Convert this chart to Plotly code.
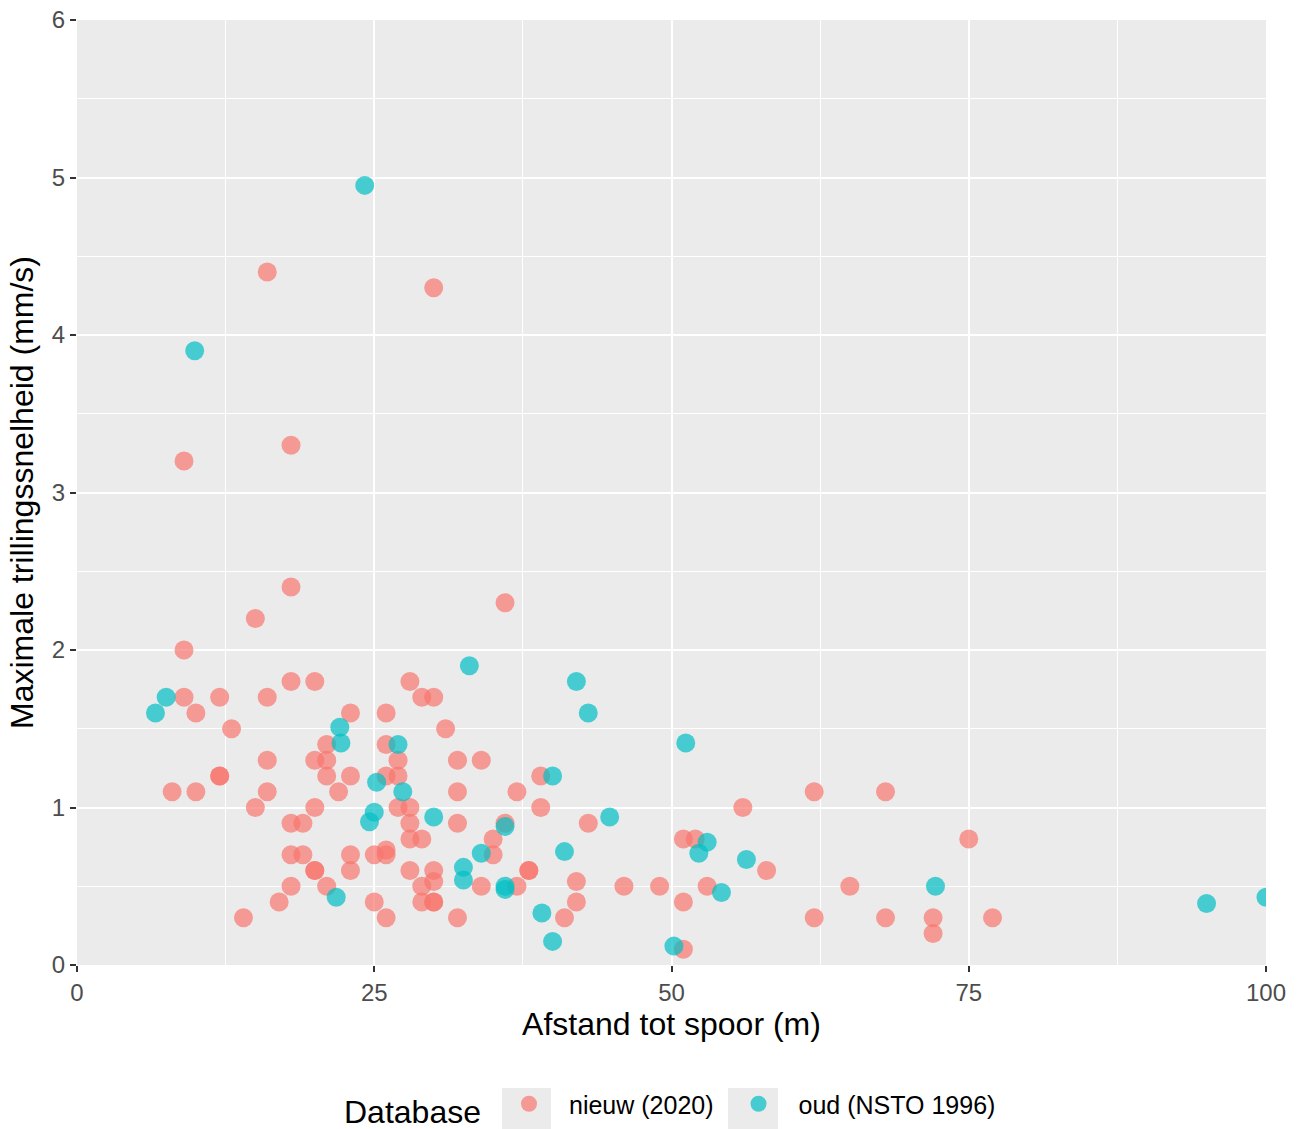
import plotly.graph_objects as go

# Afstand tot spoor (m) en maximale trillingssnelheid (mm/s), nieuwe database (2020)
nieuw_afstand = [16, 30, 9, 18, 18, 15, 36, 9, 9, 12, 10, 13, 16, 18, 20, 23, 26, 28, 29, 30,
                 31, 8, 10, 12, 12, 15, 16, 16, 18, 18, 18, 14, 17, 19, 19, 20, 20, 20, 20, 21,
                 21, 21, 21, 22, 23, 23, 23, 25, 25, 26, 26, 26, 26, 26, 27, 27, 27, 28, 28, 28,
                 28, 29, 29, 29, 30, 30, 30, 30, 32, 32, 32, 32, 34, 34, 35, 35, 36, 37, 37, 38,
                 38, 39, 39, 41, 42, 42, 43, 46, 49, 51, 51, 51, 52, 53, 56, 58, 62, 62, 65, 68,
                 68, 72, 72, 75, 77]
nieuw_snelheid = [4.4, 4.3, 3.2, 3.3, 2.4, 2.2, 2.3, 2.0, 1.7, 1.7, 1.6, 1.5, 1.7, 1.8, 1.8, 1.6, 1.6, 1.8, 1.7, 1.7,
                  1.5, 1.1, 1.1, 1.2, 1.2, 1.0, 1.3, 1.1, 0.9, 0.7, 0.5, 0.3, 0.4, 0.9, 0.7, 1.3, 1.0, 0.6, 0.6, 1.4,
                  1.3, 1.2, 0.5, 1.1, 1.2, 0.7, 0.6, 0.7, 0.4, 1.4, 1.2, 0.73, 0.7, 0.3, 1.3, 1.2, 1.0, 1.0, 0.9, 0.8,
                  0.6, 0.8, 0.5, 0.4, 0.6, 0.53, 0.4, 0.4, 1.3, 1.1, 0.9, 0.3, 1.3, 0.5, 0.8, 0.7, 0.9, 1.1, 0.5, 0.6,
                  0.6, 1.2, 1.0, 0.3, 0.53, 0.4, 0.9, 0.5, 0.5, 0.8, 0.4, 0.1, 0.8, 0.5, 1.0, 0.6, 1.1, 0.3, 0.5, 1.1,
                  0.3, 0.3, 0.2, 0.8, 0.3]

# Oude database (NSTO 1996)
oud_afstand = [24.2, 9.9, 7.5, 6.6, 22.1, 22.2, 27.0, 25.2, 27.4, 25.0, 24.6, 21.8, 33.0, 42.0, 43.0, 40.0,
               30.0, 36.0, 44.8, 34.0, 41.0, 32.5, 32.5, 36.0, 36.0, 39.1, 40.0, 51.2, 53.0, 52.3, 56.3, 54.2,
               72.2, 50.2, 95.0, 100.0]
oud_snelheid = [4.95, 3.9, 1.7, 1.6, 1.51, 1.41, 1.4, 1.16, 1.1, 0.97, 0.91, 0.43, 1.9, 1.8, 1.6, 1.2,
                0.94, 0.88, 0.94, 0.71, 0.72, 0.62, 0.54, 0.5, 0.48, 0.33, 0.15, 1.41, 0.78, 0.71, 0.67, 0.46,
                0.5, 0.12, 0.39, 0.43]

x_ticks = [0, 25, 50, 75, 100]
y_ticks = [0, 1, 2, 3, 4, 5, 6]

FONT = "Liberation Sans, Arial, sans-serif"
ROOD = "#F8766D"
BLAUWGROEN = "#00BFC4"
PANEEL = "#EBEBEB"

fig = go.Figure()
fig.add_trace(go.Scatter(
    x=nieuw_afstand, y=nieuw_snelheid, mode="markers", name="nieuw (2020)",
    marker=dict(color=ROOD, size=19, opacity=0.7, line=dict(width=0)),
))
fig.add_trace(go.Scatter(
    x=oud_afstand, y=oud_snelheid, mode="markers", name="oud (NSTO 1996)",
    marker=dict(color=BLAUWGROEN, size=19, opacity=0.7, line=dict(width=0)),
))

axis_common = dict(
    showgrid=True, gridcolor="white", gridwidth=2,
    zeroline=False, showline=False, automargin=False,
    ticks="outside", ticklen=6, tickwidth=2, tickcolor="#333333",
    tickfont=dict(family=FONT, size=24, color="#4D4D4D"),
)

fig.update_xaxes(
    range=[0, 100], tickvals=x_ticks,
    title=dict(text="Afstand tot spoor (m)", font=dict(family=FONT, size=32, color="black"), standoff=4),
    minor=dict(dtick=12.5, tick0=0, showgrid=True, gridcolor="white", gridwidth=1, ticks=""),
    **axis_common,
)
fig.update_yaxes(
    range=[0, 6], tickvals=y_ticks,
    title=dict(text="Maximale trillingssnelheid (mm/s)", font=dict(family=FONT, size=32, color="black"), standoff=8),
    minor=dict(dtick=0.5, tick0=0, showgrid=True, gridcolor="white", gridwidth=1, ticks=""),
    **axis_common,
)

# grey key backgrounds behind the legend symbols
for x0, x1 in [(502, 551), (728, 778)]:
    fig.add_shape(
        type="rect", xref="paper", yref="paper", layer="below",
        x0=(x0 - 77) / 1189, x1=(x1 - 77) / 1189,
        y0=(965 - 1088) / 945, y1=(965 - 1145) / 945,
        fillcolor=PANEEL, line=dict(width=0),
    )

fig.update_layout(
    width=1301, height=1129,
    margin=dict(l=77, r=35, t=20, b=164),
    plot_bgcolor=PANEEL, paper_bgcolor="white",
    font=dict(family=FONT, color="black"),
    showlegend=True,
    legend=dict(
        orientation="h", x=0.5, xanchor="center",
        yref="container", y=(1129 - 1107) / 1129, yanchor="middle",
        title=dict(text="Database", font=dict(family=FONT, size=32, color="black"), side="left"),
        font=dict(family=FONT, size=25, color="black"),
        itemsizing="trace", itemwidth=70, bgcolor="rgba(0,0,0,0)",
    ),
)

fig.write_html("out.html")
